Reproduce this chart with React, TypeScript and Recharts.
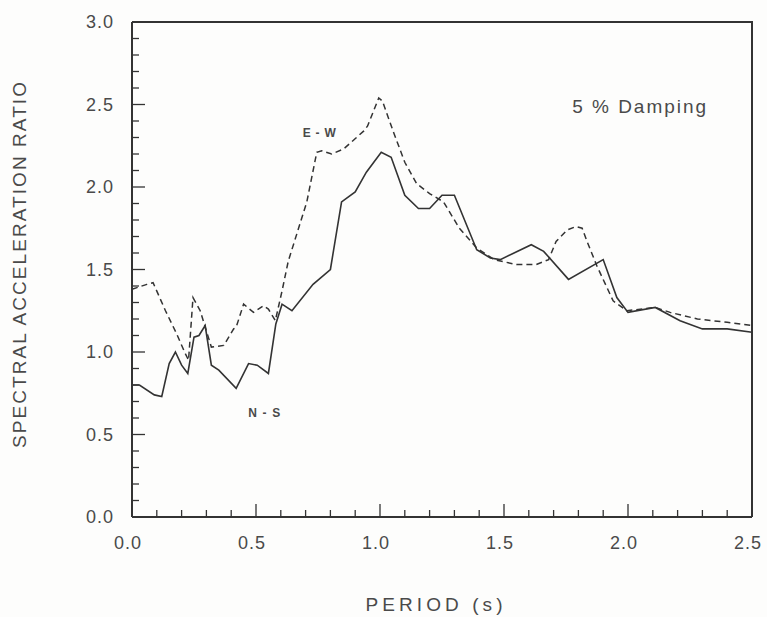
import { Label, Line, LineChart, ReferenceDot, XAxis, YAxis } from "recharts";

// period (s) vs spectral acceleration ratio
const nsPoints: [number, number][] = [
  [0.0, 0.8], [0.03, 0.8], [0.09, 0.74], [0.12, 0.73], [0.15, 0.93], [0.175, 1.0],
  [0.2, 0.92], [0.225, 0.87], [0.25, 1.09], [0.27, 1.1], [0.295, 1.16], [0.32, 0.92],
  [0.35, 0.89], [0.42, 0.78], [0.47, 0.93], [0.505, 0.92], [0.55, 0.87], [0.58, 1.17],
  [0.605, 1.29], [0.645, 1.25], [0.73, 1.41], [0.8, 1.5], [0.845, 1.91], [0.9, 1.97],
  [0.945, 2.09], [1.005, 2.21], [1.045, 2.18], [1.1, 1.95], [1.155, 1.87], [1.2, 1.87],
  [1.25, 1.95], [1.3, 1.95], [1.39, 1.62], [1.445, 1.57], [1.485, 1.56], [1.61, 1.65],
  [1.66, 1.61], [1.76, 1.44], [1.9, 1.56], [1.955, 1.33], [2.0, 1.24], [2.11, 1.27],
  [2.21, 1.19], [2.3, 1.14], [2.4, 1.14], [2.5, 1.12]
];

const ewPoints: [number, number][] = [
  [0.0, 1.38], [0.06, 1.41], [0.085, 1.42], [0.135, 1.25], [0.18, 1.11], [0.215, 0.99],
  [0.228, 0.95], [0.246, 1.33], [0.275, 1.25], [0.32, 1.03], [0.37, 1.04], [0.41, 1.14],
  [0.42, 1.15], [0.45, 1.29], [0.49, 1.24], [0.53, 1.28], [0.55, 1.26], [0.578, 1.19],
  [0.605, 1.37], [0.63, 1.55], [0.705, 1.91], [0.745, 2.21], [0.765, 2.22], [0.805, 2.2],
  [0.853, 2.23], [0.935, 2.34], [0.95, 2.37], [0.995, 2.54], [1.01, 2.52], [1.055, 2.33],
  [1.1, 2.15], [1.148, 2.02], [1.2, 1.96], [1.256, 1.91], [1.32, 1.75], [1.39, 1.63],
  [1.46, 1.56], [1.55, 1.53], [1.63, 1.53], [1.68, 1.56], [1.71, 1.67], [1.755, 1.74],
  [1.79, 1.76], [1.815, 1.75], [1.835, 1.67], [1.875, 1.52], [1.94, 1.31], [1.995, 1.25],
  [2.11, 1.27], [2.17, 1.24], [2.28, 1.2], [2.4, 1.18], [2.5, 1.16]
];

const xTicks = [
  0, 0.1, 0.2, 0.3, 0.4, 0.5, 0.6, 0.7, 0.8, 0.9, 1.0, 1.1, 1.2, 1.3, 1.4, 1.5, 1.6,
  1.7, 1.8, 1.9, 2.0, 2.1, 2.2, 2.3, 2.4, 2.5
];
const yTicks = [
  0, 0.1, 0.2, 0.3, 0.4, 0.5, 0.6, 0.7, 0.8, 0.9, 1.0, 1.1, 1.2, 1.3, 1.4, 1.5, 1.6,
  1.7, 1.8, 1.9, 2.0, 2.1, 2.2, 2.3, 2.4, 2.5, 2.6, 2.7, 2.8, 2.9, 3.0
];

const annotations = [
  { x: 0.755, y: 2.33, text: "E-W", size: 12, len: 33, weight: 700 },
  { x: 0.533, y: 0.63, text: "N-S", size: 12, len: 32, weight: 700 },
  { x: 2.045, y: 2.49, text: "5 % Damping", size: 19, len: 134, weight: 400 }
];

const nsData = nsPoints.map(([period, ratio]) => ({ period, ratio }));
const ewData = ewPoints.map(([period, ratio]) => ({ period, ratio }));

const INK = "#333333";
const TEXT = "#4a4a4a";
const FONT = "'Liberation Sans', Arial, sans-serif";
const PLOT_LEFT = 132;
const PLOT_RIGHT = 752;
const PLOT_TOP = 22;
const PLOT_BOTTOM = 517;

const isMajor = (v: number) => Math.abs(v * 2 - Math.round(v * 2)) < 1e-6;

function YTick({ y, payload }: any) {
  const v = payload.value as number;
  const major = isMajor(v);
  return (
    <g>
      <line x1={PLOT_LEFT} x2={PLOT_LEFT + (major ? 13 : 7)} y1={y} y2={y} stroke={INK} strokeWidth={1.3} />
      {major && (
        <text x={PLOT_LEFT - 18} y={y + 6} textAnchor="end" fontSize={18} fill={TEXT} fontFamily={FONT} letterSpacing={1}>
          {v.toFixed(1)}
        </text>
      )}
    </g>
  );
}

function XTick({ x, payload }: any) {
  const v = payload.value as number;
  const major = isMajor(v);
  return (
    <g>
      <line x1={x} x2={x} y1={PLOT_BOTTOM} y2={PLOT_BOTTOM - (major ? 13 : 7)} stroke={INK} strokeWidth={1.3} />
      {major && (
        <text x={x - 4} y={PLOT_BOTTOM + 32} textAnchor="middle" fontSize={18} fill={TEXT} fontFamily={FONT} letterSpacing={1}>
          {v.toFixed(1)}
        </text>
      )}
    </g>
  );
}

export default function App() {
  return (
    <div style={{ position: "absolute", left: 0, top: 0, width: 767, height: 617, background: "#fdfdfc" }}>
      <LineChart width={767} height={617} margin={{ top: PLOT_TOP, right: 767 - PLOT_RIGHT, bottom: 70, left: 72 }}>
        <XAxis
          type="number"
          dataKey="period"
          domain={[0, 2.5]}
          ticks={xTicks}
          interval={0}
          axisLine={{ stroke: INK, strokeWidth: 2 }}
          tickLine={false}
          height={30}
          tick={<XTick />}
        >
          <Label
            content={() => (
              <text x={434} y={611} textAnchor="middle" fontSize={19} fill={TEXT} fontFamily={FONT} textLength={137} lengthAdjust="spacing">
                PERIOD (s)
              </text>
            )}
          />
        </XAxis>
        <YAxis
          type="number"
          domain={[0, 3]}
          ticks={yTicks}
          interval={0}
          axisLine={{ stroke: INK, strokeWidth: 2 }}
          tickLine={false}
          width={60}
          tick={<YTick />}
        >
          <Label
            content={() => (
              <g>
                {/* top and right edges of the plot frame */}
                <path
                  d={`M${PLOT_LEFT},${PLOT_TOP} L${PLOT_RIGHT},${PLOT_TOP} L${PLOT_RIGHT},${PLOT_BOTTOM}`}
                  fill="none"
                  stroke={INK}
                  strokeWidth={2}
                />
                <text
                  x={26}
                  y={265}
                  transform="rotate(-90 26 265)"
                  textAnchor="middle"
                  fontSize={19}
                  fill={TEXT}
                  fontFamily={FONT}
                  textLength={366}
                  lengthAdjust="spacing"
                >
                  SPECTRAL ACCELERATION RATIO
                </text>
              </g>
            )}
          />
        </YAxis>
        <Line
          data={ewData}
          dataKey="ratio"
          type="linear"
          stroke={INK}
          strokeWidth={1.5}
          strokeDasharray="6 4"
          dot={false}
          activeDot={false}
          isAnimationActive={false}
        />
        <Line
          data={nsData}
          dataKey="ratio"
          type="linear"
          stroke={INK}
          strokeWidth={1.6}
          dot={false}
          activeDot={false}
          isAnimationActive={false}
        />
        {annotations.map((a) => (
          <ReferenceDot
            key={a.text}
            x={a.x}
            y={a.y}
            r={0}
            fill="none"
            stroke="none"
            label={{
              content: (p: any) => {
                const vb = p.viewBox || {};
                const cx = (vb.x ?? 0) + (vb.width ?? 0) / 2;
                const cy = (vb.y ?? 0) + (vb.height ?? 0) / 2;
                return (
                  <text
                    x={cx}
                    y={cy + a.size * 0.36}
                    textAnchor="middle"
                    fontSize={a.size}
                    fontWeight={a.weight}
                    fill={TEXT}
                    fontFamily={FONT}
                    textLength={a.len}
                    lengthAdjust="spacing"
                  >
                    {a.text}
                  </text>
                );
              }
            }}
          />
        ))}
      </LineChart>
    </div>
  );
}
